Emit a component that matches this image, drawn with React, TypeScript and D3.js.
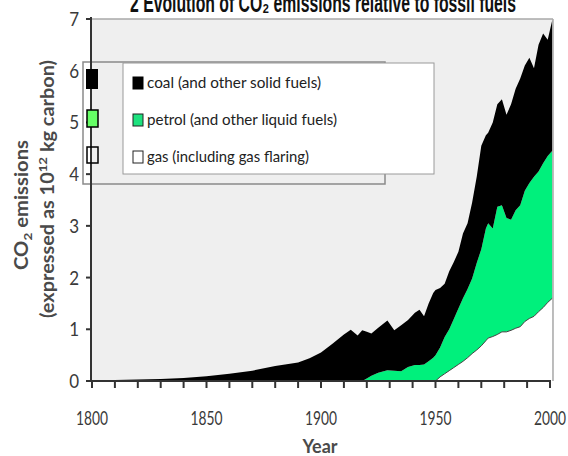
import React from "react";
import * as d3 from "d3";

const years = [1800, 1810, 1820, 1830, 1840, 1850, 1860, 1870, 1880, 1890, 1895, 1900, 1905, 1910, 1913, 1916, 1918, 1920, 1922, 1925, 1929, 1932, 1935, 1938, 1941, 1943, 1945, 1947, 1949, 1950, 1952, 1954, 1956, 1958, 1960, 1962, 1964, 1966, 1968, 1970, 1972, 1973, 1975, 1977, 1979, 1981, 1983, 1985, 1987, 1989, 1991, 1993, 1995, 1997, 1999, 2001];
const coal = [0.01, 0.02, 0.03, 0.04, 0.06, 0.09, 0.14, 0.2, 0.29, 0.36, 0.44, 0.55, 0.72, 0.9, 0.99, 0.88, 0.98, 0.9, 0.82, 0.87, 0.96, 0.78, 0.89, 0.91, 1.01, 1.07, 0.93, 1.12, 1.25, 1.26, 1.15, 1.03, 1.12, 1.1, 1.1, 1.25, 1.27, 1.47, 1.67, 2.0, 1.8, 1.75, 2.05, 1.98, 2.05, 2.0, 2.23, 2.35, 2.45, 2.42, 2.42, 2.1, 2.45, 2.51, 2.25, 2.53];
const petrol = [0, 0, 0, 0, 0, 0, 0, 0, 0, 0, 0, 0, 0, 0, 0, 0, 0, 0.05, 0.1, 0.16, 0.21, 0.2, 0.19, 0.27, 0.31, 0.31, 0.32, 0.38, 0.45, 0.5, 0.57, 0.71, 0.8, 0.94, 1.08, 1.22, 1.33, 1.45, 1.68, 1.87, 2.17, 2.22, 2.09, 2.47, 2.45, 2.2, 2.14, 2.28, 2.35, 2.53, 2.62, 2.7, 2.71, 2.79, 2.83, 2.85];
const gas = [0, 0, 0, 0, 0, 0, 0, 0, 0, 0, 0, 0, 0, 0, 0, 0, 0, 0, 0, 0, 0, 0, 0, 0, 0, 0, 0, 0, 0, 0, 0.08, 0.14, 0.2, 0.26, 0.32, 0.38, 0.45, 0.53, 0.6, 0.68, 0.78, 0.83, 0.86, 0.9, 0.95, 0.95, 0.98, 1.02, 1.05, 1.15, 1.21, 1.25, 1.34, 1.42, 1.52, 1.6];

const xTickLabels = [1800, 1850, 1900, 1950, 2000];
const yTickLabels = [0, 1, 2, 3, 4, 5, 6, 7];
const legendLabels = ["coal (and other solid fuels)", "petrol (and other liquid fuels)", "gas (including gas flaring)"];

const FONT = "Lato, 'Open Sans', sans-serif";

export default function App() {
  const x = d3.scaleLinear().domain([1800, 2000]).range([92, 550]);
  const y = d3.scaleLinear().domain([0, 7]).range([381, 19]);

  const rows = years.map((yr, i) => ({ year: yr, gas: gas[i], petrol: petrol[i], coal: coal[i] }));
  const stack = d3.stack<any>().keys(["gas", "petrol", "coal"]);
  const series = stack(rows);
  const area = d3
    .area<any>()
    .x((d) => x(d.data.year))
    .y0((d) => y(d[0]))
    .y1((d) => y(d[1]));
  const topLine = d3
    .line<any>()
    .x((d) => x(d.data.year))
    .y((d) => y(d[1]));

  const fills: Record<string, string> = { gas: "#ffffff", petrol: "#00f07c", coal: "#000000" };
  const minorTicks = d3.range(1800, 2001, 10);
  const gasSeries = series[0].filter((d: any) => d.data.year >= 1950);

  return (
    <svg width={568} height={456} style={{ position: "absolute", left: 0, top: 0, background: "#fff" }}>
      {/* title (cropped at top, as in the source) */}
      <text x={130} y={12} fontFamily="'Liberation Sans', Arial, sans-serif" fontWeight="bold" fontSize={25} fill="#111" textLength={386} lengthAdjust="spacingAndGlyphs">
        2 Evolution of CO₂ emissions relative to fossil fuels
      </text>

      {/* plot background */}
      <rect x={92} y={19} width={461} height={362} fill="#efefef" />

      {/* stacked areas */}
      {series.map((s: any) => (
        <path key={s.key} d={area(s) || ""} fill={fills[s.key]} stroke="none" />
      ))}
      <path d={topLine(gasSeries) || ""} fill="none" stroke="#444" strokeWidth={1} />

      {/* frame */}
      <line x1={92} x2={553} y1={19} y2={19} stroke="#a8a8a8" strokeWidth={1.5} />
      <line x1={553} x2={553} y1={19} y2={381} stroke="#a8a8a8" strokeWidth={1.5} />

      {/* legend */}
      <rect x={83} y={62} width={302} height={122} fill="none" stroke="#8a8a8a" strokeWidth={1.5} />
      <rect x={123} y={63} width={311} height={111} fill="#ffffff" stroke="#9a9a9a" strokeWidth={1} />

      {/* axes */}
      <line x1={91} x2={91} y1={17} y2={382} stroke="#333" strokeWidth={2} />
      <line x1={90} x2={551} y1={381} y2={381} stroke="#333" strokeWidth={2} />
      {yTickLabels.map((v) => (
        <g key={"y" + v}>
          <line x1={86} x2={91} y1={y(v)} y2={y(v)} stroke="#333" strokeWidth={2} />
          <text x={79} y={y(v) + 7} textAnchor="end" fontFamily={FONT} fontSize={20} fill="#3a3a3a" transform={`translate(${79 * 0.15},0) scale(0.85,1)`}>
            {v}
          </text>
        </g>
      ))}
      {minorTicks.map((t) => (
        <line key={"t" + t} x1={x(t)} x2={x(t)} y1={381} y2={388} stroke="#333" strokeWidth={2} />
      ))}
      {xTickLabels.map((t) => (
        <text key={"xl" + t} x={x(t)} y={425} textAnchor="middle" fontFamily={FONT} fontSize={20} fill="#3a3a3a" textLength={32} lengthAdjust="spacingAndGlyphs">
          {t}
        </text>
      ))}

      {/* big legend squares over axis */}
      <rect x={86} y={69} width={12} height={20} fill="#000" />
      <rect x={87} y={110} width={11} height={17} fill="#66ff66" stroke="#000" strokeWidth={1.5} />
      <rect x={87} y={147} width={11} height={16} fill="none" stroke="#000" strokeWidth={1.5} />

      {/* inner legend entries */}
      {legendLabels.map((lab, i) => {
        const cy = [83, 120, 157][i];
        const sq = [
          { fill: "#000", stroke: "#000" },
          { fill: "#1de27e", stroke: "#222" },
          { fill: "#fff", stroke: "#222" },
        ][i];
        const widths = [174, 190, 162];
        return (
          <g key={lab}>
            <rect x={133} y={cy - 6} width={10} height={12} fill={sq.fill} stroke={sq.stroke} strokeWidth={1} />
            <text x={147} y={cy + 5} fontFamily={FONT} fontSize={16} fill="#222" textLength={widths[i]} lengthAdjust="spacingAndGlyphs">
              {lab}
            </text>
          </g>
        );
      })}

      {/* axis titles */}
      <text transform="translate(28,205) rotate(-90)" textAnchor="middle" fontFamily={FONT} fontWeight="bold" fontSize={18} fill="#4a4a4a" textLength={130} lengthAdjust="spacingAndGlyphs">
        CO<tspan fontSize={12} dy={4}>2</tspan><tspan dy={-4}> emissions</tspan>
      </text>
      <text transform="translate(54,189) rotate(-90)" textAnchor="middle" fontFamily={FONT} fontWeight="bold" fontSize={18} fill="#4a4a4a" textLength={258} lengthAdjust="spacingAndGlyphs">
        (expressed as 10<tspan fontSize={12} dy={-7}>12</tspan><tspan dy={7}>  kg carbon)</tspan>
      </text>
      <text x={320} y={453} textAnchor="middle" fontFamily={FONT} fontWeight="bold" fontSize={18} fill="#4a4a4a">
        Year
      </text>
    </svg>
  );
}
